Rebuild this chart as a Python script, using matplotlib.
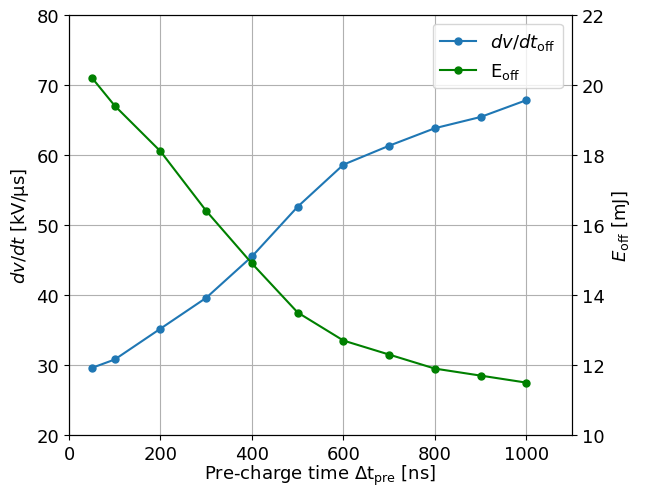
import matplotlib
matplotlib.use("Agg")
import matplotlib.pyplot as plt

plt.rcParams['font.size'] = 13

# Pre-charge time sweep
t_pre = [50, 100, 200, 300, 400, 500, 600, 700, 800, 900, 1000]
dvdt_off = [29.6, 30.8, 35.2, 39.6, 45.5, 52.6, 58.6, 61.3, 63.8, 65.4, 67.8]
e_off = [20.2, 19.4, 18.1, 16.4, 14.9, 13.5, 12.7, 12.3, 11.9, 11.7, 11.5]

fig, ax1 = plt.subplots(figsize=(6.45, 4.89), dpi=100)
ax2 = ax1.twinx()

l1, = ax1.plot(t_pre, dvdt_off, marker='o', markersize=5, color='tab:blue',
               label=r'$dv/dt_{\mathrm{off}}$')
l2, = ax2.plot(t_pre, e_off, marker='o', markersize=5, color='green',
               label=r'E$_{\mathrm{off}}$')

ax1.set_xlim(0, 1100)
ax1.set_ylim(20, 80)
ax2.set_ylim(10, 22)
ax1.grid(True)

ax1.set_xlabel(r'Pre-charge time $\Delta$t$_{\mathrm{pre}}$ [ns]', labelpad=0)
ax1.set_ylabel(r'$dv/dt$ [kV/µs]')
ax2.set_ylabel(r'$E_{\mathrm{off}}$ [mJ]')

ax1.legend(handles=[l1, l2], loc='upper right')

fig.subplots_adjust(left=0.107, right=0.887, top=0.968, bottom=0.108)
fig.savefig('out.png')
